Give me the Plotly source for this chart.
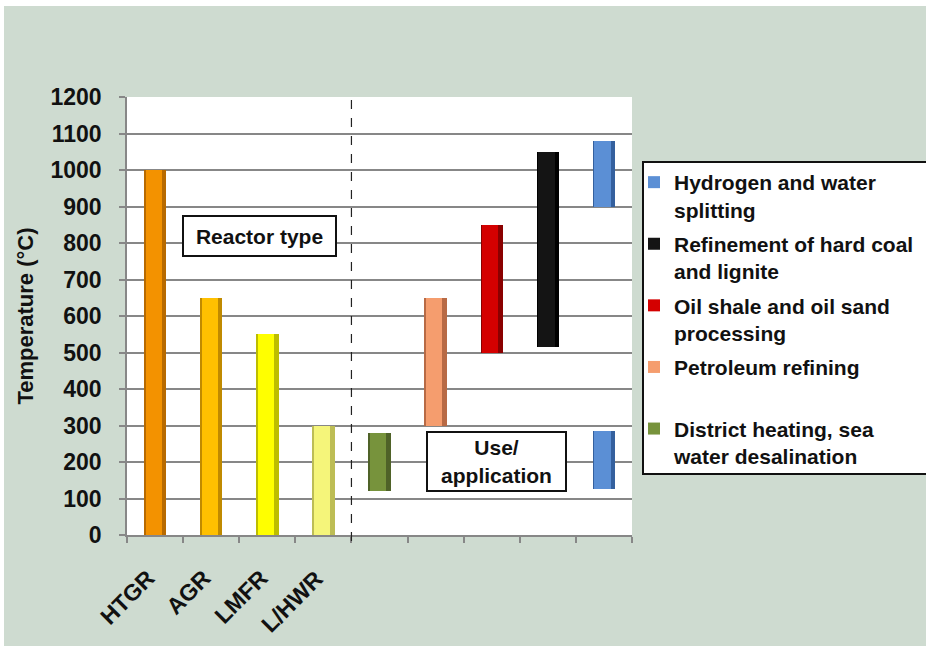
import plotly.graph_objects as go

# ---- data -------------------------------------------------------------
reactor_types = ["HTGR", "AGR", "LMFR", "L/HWR"]
reactor_max_temp = [1000, 650, 550, 300]
reactor_colors = ["#F39200", "#FFC000", "#FFFF00", "#F5F57A"]
reactor_edges = ["#B86A00", "#C08A00", "#BDBD00", "#BDBD55"]

# applications: name, slot index, (low, high) ranges
app_names = [
    "Hydrogen and water<br>splitting",
    "Refinement of hard coal<br>and lignite",
    "Oil shale and oil sand<br>processing",
    "Petroleum refining<br>&nbsp;",
    "District heating, sea<br>water desalination",
]
app_slots = [[8, 8], [7], [6], [5], [4]]
app_low = [[900, 125], [515], [500], [300], [120]]
app_high = [[1080, 285], [1050], [850], [650], [280]]
app_colors = ["#5B8FD5", "#141414", "#D40000", "#F59D6E", "#77933C"]
app_edges = ["#34609E", "#000000", "#8A0000", "#B86A45", "#4F6228"]

y_ticks = list(range(0, 1201, 100))

# ---- geometry of the plot area (pixels) -------------------------------
W, H = 926, 646
L, R, T, B = 127, 632, 97, 535
pw, ph = R - L, B - T


def px(xp):
    return (xp - L) / pw


def py(yp):
    return (B - yp) / ph


FONT = "Liberation Sans, Arial, sans-serif"
TXT = "#111111"
BG = "#CEDBD0"
GRID = "#878787"

fig = go.Figure()

# dark under-layer gives each column a shaded edge
for i, (v, c) in enumerate(zip(reactor_max_temp, reactor_edges)):
    fig.add_trace(go.Bar(x=[i], y=[v], base=[0], width=0.4, marker=dict(color=c, line_width=0),
                         showlegend=False, hoverinfo="skip"))
for s, lo, hi, c in zip(app_slots, app_low, app_high, app_edges):
    fig.add_trace(go.Bar(x=s, y=[h - l for l, h in zip(lo, hi)], base=lo, width=0.4,
                         marker=dict(color=c, line_width=0), showlegend=False, hoverinfo="skip"))

# lit face of each column
for i, (v, c) in enumerate(zip(reactor_max_temp, reactor_colors)):
    fig.add_trace(go.Bar(x=[i], y=[v], base=[0], width=0.29, offset=-0.17,
                         marker=dict(color=c, line_width=0), showlegend=False, name=reactor_types[i]))
for k, (name, s, lo, hi, c) in enumerate(zip(app_names, app_slots, app_low, app_high, app_colors)):
    fig.add_trace(go.Bar(x=s, y=[h - l for l, h in zip(lo, hi)], base=lo, width=0.29, offset=-0.17,
                         marker=dict(color=c, line_width=0), name=name, legendgroup=f"g{k}"))

shapes = [
    # white strips along the top and left edges
    dict(type="rect", xref="paper", yref="paper", x0=px(-5), x1=px(W + 5), y0=py(6), y1=py(-5),
         fillcolor="white", line_width=0, layer="below"),
    dict(type="rect", xref="paper", yref="paper", x0=px(-5), x1=px(4), y0=py(H + 5), y1=py(-5),
         fillcolor="white", line_width=0, layer="below"),
    # divider between reactor types and applications
    dict(type="line", xref="x", yref="paper", x0=3.5, x1=3.5, y0=py(541), y1=1,
         line=dict(color="#222222", width=1.2, dash="dash")),
    # legend frame
    dict(type="rect", xref="paper", yref="paper", x0=px(643), x1=px(W + 20), y0=py(474), y1=py(162),
         fillcolor="white", line=dict(color="#111111", width=2), layer="below"),
]

annotations = [
    dict(text="Reactor type", xref="paper", yref="paper", x=px(259.5), y=py(236),
         xanchor="center", yanchor="middle", showarrow=False, width=151, height=38,
         bgcolor="white", bordercolor="#111111", borderwidth=2, borderpad=0,
         font=dict(family=FONT, size=21, color=TXT, weight="bold")),
    dict(text="Use/<br>application", xref="paper", yref="paper", x=px(496.5), y=py(461.5),
         xanchor="center", yanchor="middle", showarrow=False, width=137, height=57,
         bgcolor="white", bordercolor="#111111", borderwidth=2, borderpad=0,
         font=dict(family=FONT, size=21, color=TXT, weight="bold")),
]
for i, lab in enumerate(reactor_types):
    annotations.append(dict(text=lab, x=i, y=0, xref="x", yref="y", textangle=-45,
                            xanchor="right", yanchor="top", xshift=8, yshift=-27, showarrow=False,
                            font=dict(family=FONT, size=23, color=TXT, weight="bold")))

fig.update_layout(
    width=W, height=H,
    margin=dict(l=L, r=W - R, t=T, b=H - B, autoexpand=False),
    paper_bgcolor=BG, plot_bgcolor="white",
    barmode="overlay", bargap=0,
    shapes=shapes, annotations=annotations,
    showlegend=True,
    legend=dict(x=px(634), y=py(162), xanchor="left", yanchor="top",
                bgcolor="rgba(0,0,0,0)", borderwidth=0, valign="top",
                font=dict(family=FONT, size=21, color=TXT, weight="bold"),
                traceorder="grouped", tracegroupgap=4, itemclick=False),
    xaxis=dict(range=[-0.5, 8.5], tickmode="array", tickvals=[i - 0.5 for i in range(10)],
               showticklabels=False, ticks="outside", ticklen=6, tickwidth=1.5, tickcolor=GRID,
               showgrid=False, zeroline=False, showline=True, linecolor=GRID, linewidth=1.5),
    yaxis=dict(range=[0, 1200], tickmode="array", tickvals=y_ticks,
               ticks="outside", ticklen=6, tickwidth=1.5, tickcolor=GRID, ticklabelstandoff=13,
               showgrid=True, gridcolor=GRID, gridwidth=1.5, zeroline=False,
               showline=True, linecolor=GRID, linewidth=1.5,
               tickfont=dict(family=FONT, size=23, color=TXT, weight="bold"),
               title=dict(text="Temperature (°C)", standoff=11,
                          font=dict(family=FONT, size=22, color=TXT, weight="bold"))),
)

fig.write_html("out.html")
